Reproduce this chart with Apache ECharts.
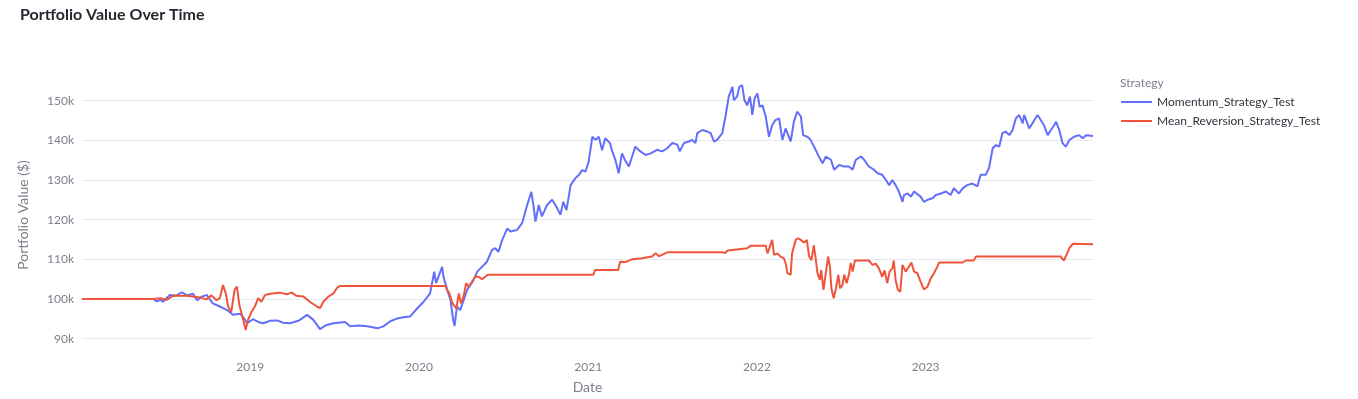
<!DOCTYPE html>
<html>
<head>
<meta charset="utf-8">
<script src="https://cdn.jsdelivr.net/npm/echarts@6/dist/echarts.min.js"></script>
<style>
  html, body { margin:0; padding:0; background:#fff; }
  #chart { width:1358px; height:399px; }
</style>
</head>
<body>
<div id="chart"></div>
<script>
// values in thousands of dollars
const momentumDates = [
  '2018-01-02','2018-06-05','2018-06-13','2018-06-20','2018-06-26','2018-07-11','2018-07-24','2018-08-06','2018-08-17','2018-08-30',
  '2018-09-08','2018-09-18','2018-09-29','2018-10-12','2018-10-27','2018-11-12','2018-11-25','2018-12-10','2018-12-18','2018-12-25',
  '2019-01-07','2019-01-18','2019-01-29','2019-02-13','2019-02-28','2019-03-13','2019-03-28','2019-04-15','2019-05-04','2019-05-17',
  '2019-06-01','2019-06-14','2019-06-30','2019-07-25','2019-08-05','2019-08-23','2019-09-11','2019-10-03','2019-10-16','2019-10-31',
  '2019-11-15','2019-11-28','2019-12-13','2019-12-28',
  '2020-01-11','2020-01-25','2020-02-03','2020-02-07','2020-02-20','2020-02-23','2020-03-02','2020-03-09','2020-03-15','2020-03-18',
  '2020-03-23','2020-03-30','2020-04-07','2020-04-14','2020-04-21','2020-04-28','2020-05-06','2020-05-16','2020-05-27','2020-06-07',
  '2020-06-14','2020-06-21','2020-06-29','2020-07-10','2020-07-17','2020-07-31','2020-08-11','2020-08-22','2020-08-31','2020-09-05',
  '2020-09-09','2020-09-16','2020-09-23','2020-10-04','2020-10-15','2020-10-26','2020-11-02','2020-11-08','2020-11-15','2020-11-24',
  '2020-12-04','2020-12-12','2020-12-19','2020-12-26',
  '2021-01-02','2021-01-10','2021-01-17','2021-01-24','2021-01-31','2021-02-07','2021-02-17','2021-02-22','2021-03-01','2021-03-08',
  '2021-03-15','2021-03-23','2021-03-30','2021-04-06','2021-04-13','2021-04-24','2021-05-05','2021-05-16','2021-05-30','2021-06-10',
  '2021-06-21','2021-07-02','2021-07-13','2021-07-18','2021-07-27','2021-08-07','2021-08-14','2021-08-21','2021-08-25','2021-09-05',
  '2021-09-16','2021-09-23','2021-09-30','2021-10-07','2021-10-18','2021-10-25','2021-11-01','2021-11-09','2021-11-12','2021-11-19',
  '2021-11-24','2021-11-30','2021-12-05','2021-12-11','2021-12-17','2021-12-22','2021-12-27',
  '2022-01-02','2022-01-07','2022-01-13','2022-01-20','2022-01-27','2022-02-03','2022-02-10','2022-02-18','2022-02-25','2022-03-04',
  '2022-03-15','2022-03-22','2022-03-29','2022-04-06','2022-04-11','2022-04-20','2022-04-27','2022-05-08','2022-05-15','2022-05-23',
  '2022-05-30','2022-06-10','2022-06-17','2022-06-28','2022-07-08','2022-07-19','2022-07-27','2022-08-03','2022-08-14','2022-08-21',
  '2022-08-31','2022-09-11','2022-09-19','2022-09-29','2022-10-07','2022-10-14','2022-10-21','2022-10-28','2022-11-04','2022-11-12',
  '2022-11-15','2022-11-23','2022-11-30','2022-12-07','2022-12-21','2022-12-28',
  '2023-01-05','2023-01-16','2023-01-23','2023-02-03','2023-02-14','2023-02-24','2023-03-03','2023-03-14','2023-03-22','2023-04-01',
  '2023-04-12','2023-04-23','2023-04-30','2023-05-11','2023-05-18','2023-05-26','2023-06-02','2023-06-09','2023-06-16','2023-06-23',
  '2023-07-01','2023-07-08','2023-07-15','2023-07-22','2023-07-30','2023-08-02','2023-08-13','2023-08-20','2023-08-31','2023-09-07',
  '2023-09-14','2023-09-22','2023-09-29','2023-10-06','2023-10-10','2023-10-17','2023-10-24','2023-10-31','2023-11-08','2023-11-18',
  '2023-11-29','2023-12-07','2023-12-14','2023-12-29'
];
const momentumValues = [
  100.0, 100.0, 99.4, 99.8, 99.3, 101.0, 100.8, 101.7, 100.9, 101.3,
  99.7, 100.6, 101.0, 98.9, 98.1, 97.2, 96.0, 96.3, 95.2, 93.9,
  94.9, 94.2, 93.9, 94.5, 94.6, 94.0, 93.9, 94.5, 96.0, 94.8,
  92.4, 93.4, 93.9, 94.2, 93.1, 93.3, 93.1, 92.6, 93.1, 94.4,
  95.1, 95.4, 95.6, 97.6,
  99.3, 101.4, 106.9, 104.0, 108.1, 105.6, 102.3, 99.8, 94.7, 93.2,
  98.1, 97.2, 99.8, 102.3, 103.5, 104.8, 106.9, 108.1, 109.4, 112.4,
  112.8, 111.9, 114.9, 117.8, 117.0, 117.4, 119.1, 123.7, 127.0, 123.3,
  119.5, 123.7, 120.8, 123.7, 125.0, 122.9, 121.2, 124.5, 122.4, 128.7,
  130.4, 131.3, 132.5, 132.1,
  134.6, 140.9, 140.1, 140.9, 137.5, 140.5, 139.3, 137.2, 135.0, 131.7,
  136.7, 134.7, 133.4, 135.9, 138.4, 137.2, 136.3, 136.7, 137.6, 137.2,
  138.0, 139.3, 138.9, 137.2, 139.3, 139.7, 140.1, 139.3, 141.8, 142.6,
  142.2, 141.8, 139.7, 140.1, 141.8, 146.0, 151.0, 153.5, 150.1, 151.0,
  153.5, 153.9, 150.1, 148.8, 151.0, 146.4, 150.6,
  151.8, 148.4, 148.8, 146.0, 140.9, 143.8, 145.1, 145.5, 140.1, 143.0,
  139.7, 144.7, 147.2, 146.0, 141.3, 140.9, 140.1, 137.6, 135.9, 134.2,
  135.9, 135.1, 132.6, 133.8, 133.4, 133.4, 132.6, 135.1, 135.9, 135.1,
  133.4, 132.6, 131.7, 131.3, 130.0, 128.7, 130.0, 128.7, 127.1, 124.5,
  126.2, 126.6, 125.8, 127.1, 125.8, 124.5,
  125.0, 125.4, 126.2, 126.6, 127.1, 126.2, 127.9, 126.6, 127.9, 128.7,
  129.1, 128.4, 131.3, 131.3, 133.0, 138.0, 138.8, 138.4, 141.8, 142.2,
  141.3, 142.6, 145.5, 146.4, 144.3, 146.4, 143.0, 144.3, 146.4, 145.1,
  143.8, 141.3, 142.6, 143.8, 144.7, 142.6, 139.3, 138.4, 140.1, 140.9,
  141.3, 140.5, 141.3, 141.1
];

const reversionDates = [
  '2018-01-02','2018-06-05','2018-06-20','2018-07-04','2018-07-18','2018-08-16','2018-09-14','2018-09-28','2018-10-09','2018-10-20',
  '2018-10-27','2018-11-03','2018-11-09','2018-11-14','2018-11-21','2018-11-28','2018-12-03','2018-12-09','2018-12-15','2018-12-22',
  '2018-12-27','2019-01-04','2019-01-11','2019-01-18','2019-01-25','2019-02-02','2019-02-16','2019-03-06','2019-03-21','2019-04-01',
  '2019-04-11','2019-04-26','2019-05-10','2019-05-25','2019-06-01','2019-06-08','2019-06-19','2019-06-30','2019-07-07','2019-07-14',
  '2020-02-27','2020-03-02','2020-03-07','2020-03-12','2020-03-16','2020-03-22','2020-03-27','2020-04-01','2020-04-07','2020-04-12',
  '2020-04-17','2020-04-25','2020-05-02','2020-05-09','2020-05-16','2020-05-21','2020-05-29',
  '2021-01-12','2021-01-16','2021-03-07','2021-03-11','2021-03-22','2021-04-06','2021-04-24','2021-05-19','2021-05-27','2021-06-03',
  '2021-06-11','2021-06-22','2021-10-18','2021-10-22','2021-10-25','2021-10-29','2021-11-19','2021-12-11','2021-12-18','2021-12-22',
  '2022-01-01','2022-01-20','2022-01-24','2022-01-27','2022-02-03','2022-02-07','2022-02-14','2022-02-21','2022-02-28','2022-03-04',
  '2022-03-08','2022-03-10','2022-03-15','2022-03-18','2022-03-26','2022-03-31','2022-04-06','2022-04-13','2022-04-19','2022-04-24',
  '2022-04-29','2022-05-04','2022-05-08','2022-05-12','2022-05-17','2022-05-20','2022-05-25','2022-05-30','2022-06-04','2022-06-08',
  '2022-06-11','2022-06-16','2022-06-21','2022-06-26','2022-06-30','2022-07-05','2022-07-09','2022-07-14','2022-07-19','2022-07-23',
  '2022-07-27','2022-08-01','2022-08-31','2022-09-08','2022-09-15','2022-09-22','2022-09-29','2022-10-04','2022-10-10','2022-10-15',
  '2022-10-21','2022-10-24','2022-10-28','2022-11-02','2022-11-07','2022-11-12','2022-11-19','2022-11-25','2022-12-01','2022-12-07',
  '2022-12-14','2022-12-21','2022-12-28','2023-01-05','2023-01-12','2023-01-19','2023-01-26','2023-01-30','2023-03-22','2023-03-29',
  '2023-04-15','2023-04-20','2023-10-20','2023-10-27','2023-10-31','2023-11-08','2023-11-15','2023-12-29'
];
const reversionValues = [
  100.0, 100.0, 100.2, 99.8, 100.8, 100.8, 100.4, 99.9, 100.9, 99.7,
  100.2, 103.5, 101.4, 98.1, 96.8, 102.3, 103.1, 98.1, 95.6, 92.2,
  94.7, 96.8, 98.1, 100.2, 99.3, 101.0, 101.4, 101.6, 101.2, 101.6,
  100.8, 100.6, 99.3, 98.1, 97.7, 99.3, 100.6, 101.4, 102.7, 103.3,
  103.3, 102.3, 101.4, 99.3, 98.5, 97.6, 101.4, 98.9, 101.0, 104.0,
  103.1, 104.4, 105.6, 105.6, 105.0, 105.4, 106.1,
  106.1, 107.3, 107.3, 109.4, 109.3, 110.0, 110.2, 110.7, 111.5, 110.8,
  111.2, 111.8, 111.8, 112.2, 111.6, 112.2, 112.5, 112.8, 113.4, 113.0,
  113.4, 113.4, 111.5, 111.1, 114.9, 111.1, 111.5, 110.7, 110.3, 109.1,
  106.5, 107.0, 106.1, 111.5, 114.9, 115.3, 114.9, 114.2, 114.9, 110.7,
  109.8, 113.6, 110.3, 106.5, 104.8, 107.3, 102.3, 106.5, 110.7, 108.1,
  102.7, 100.2, 102.7, 106.1, 102.7, 103.5, 106.1, 104.0, 106.1, 109.1,
  106.9, 109.7, 109.7, 108.6, 108.9, 107.7, 105.6, 107.2, 104.0, 106.9,
  107.7, 109.7, 104.8, 102.3, 101.8, 108.6, 106.9, 108.0, 109.2, 106.9,
  106.5, 104.4, 102.4, 103.1, 105.2, 106.5, 108.1, 109.2, 109.2, 109.7,
  109.7, 110.7, 110.7, 109.7, 110.7, 112.8, 113.9, 113.8
];

const seriesNames = ['Momentum_Strategy_Test', 'Mean_Reversion_Strategy_Test'];
const seriesColors = ['#636efa', '#ef553b'];

const font = 'Lato, "Noto Sans", sans-serif';
const grey = '#7d818c';

const chart = echarts.init(document.getElementById('chart'));
const pairs = (d, v) => d.map((x, i) => [x, v[i]]);

chart.setOption({
  animation: false,
  textStyle: { fontFamily: font },
  title: [
    { text: 'Portfolio Value Over Time', left: 15, top: 2,
      textStyle: { fontFamily: font, fontSize: 16, fontWeight: 'bold', color: '#262730' } },
    { text: 'Strategy', left: 1115, top: 72,
      textStyle: { fontFamily: font, fontSize: 12, fontWeight: 'normal', color: grey } }
  ],
  legend: {
    orient: 'vertical', left: 1116, top: 91, itemGap: 7,
    itemWidth: 31, itemHeight: 12, icon: 'path://M0,5 L31,5 L31,7 L0,7 Z',
    textStyle: { fontFamily: font, fontSize: 12, color: '#31333f' },
    data: seriesNames
  },
  grid: { left: 82, right: 265, top: 80, bottom: 49, outerBoundsMode: 'none' },
  xAxis: {
    type: 'time',
    min: '2018-01-02', max: '2023-12-29',
    minInterval: 365 * 24 * 3600 * 1000,
    name: 'Date', nameLocation: 'middle', nameGap: 30,
    nameTextStyle: { fontFamily: font, fontSize: 14, color: grey },
    axisLine: { show: false }, axisTick: { show: false },
    splitLine: { show: false },
    axisLabel: { color: grey, fontSize: 12, margin: 11, showMinLabel: false, showMaxLabel: false,
      formatter: v => String(new Date(v).getFullYear()) }
  },
  yAxis: {
    type: 'value',
    min: 87.14, max: 155.2,
    splitNumber: 7,
    name: 'Portfolio Value ($)', nameLocation: 'middle', nameGap: 52,
    nameTextStyle: { fontFamily: font, fontSize: 14, color: grey },
    axisLine: { show: false }, axisTick: { show: false },
    splitLine: { lineStyle: { color: '#e6e9ef', width: 1 }, showMinLine: false, showMaxLine: false },
    axisLabel: { color: grey, fontSize: 12, margin: 8, showMinLabel: false, showMaxLabel: false,
      formatter: v => Math.round(v) + 'k' }
  },
  series: [
    { name: seriesNames[0], type: 'line', data: pairs(momentumDates, momentumValues),
      symbol: 'none', lineStyle: { width: 2, color: seriesColors[0] }, itemStyle: { color: seriesColors[0] } },
    { name: seriesNames[1], type: 'line', data: pairs(reversionDates, reversionValues),
      symbol: 'none', lineStyle: { width: 2, color: seriesColors[1] }, itemStyle: { color: seriesColors[1] } }
  ]
});
</script>
</body>
</html>
